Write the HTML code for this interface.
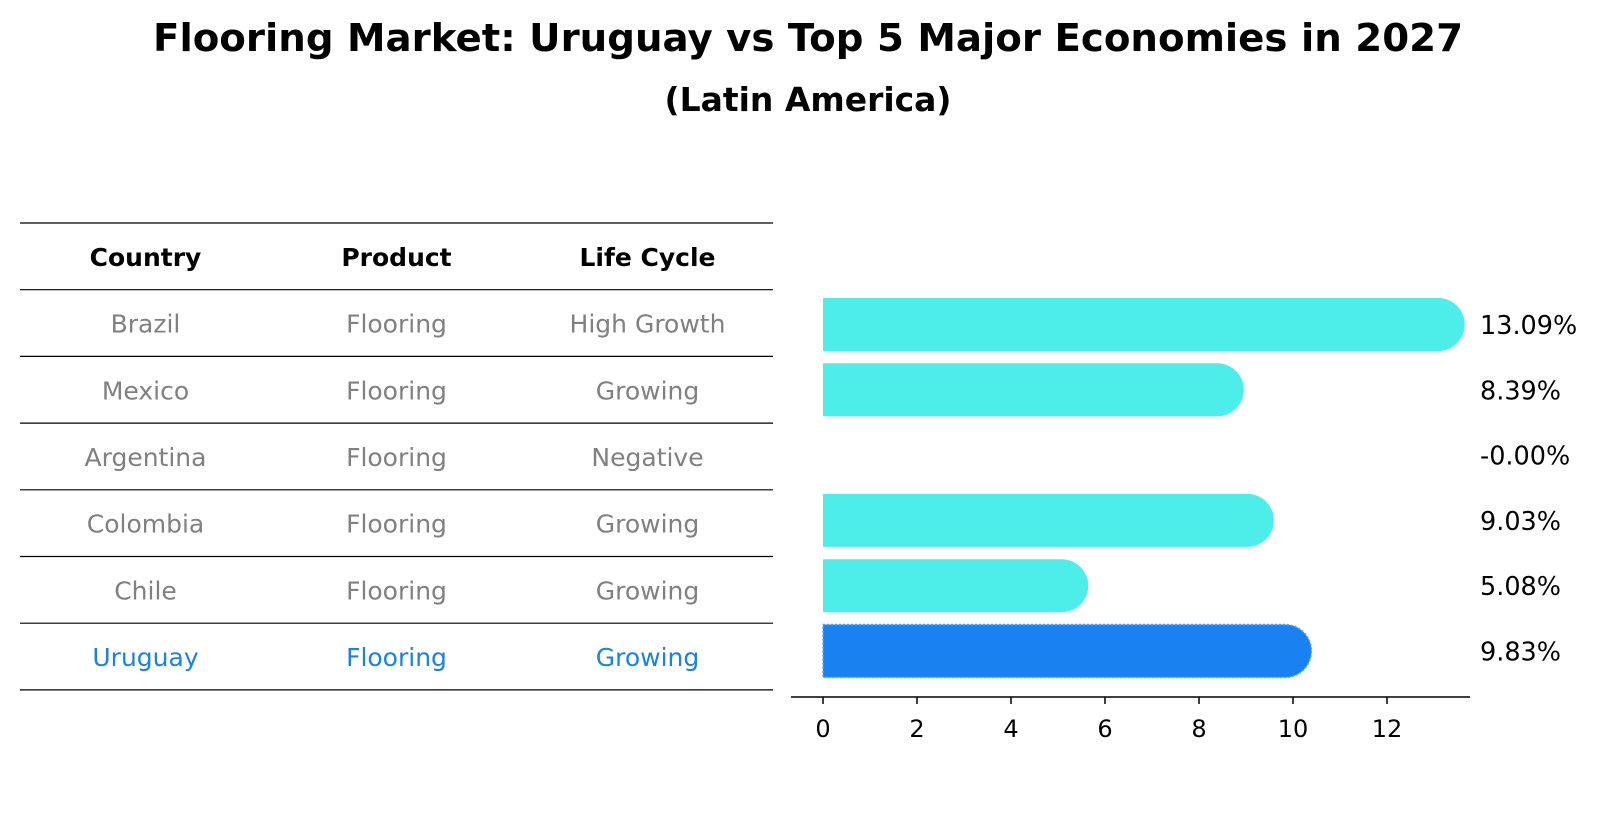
<!DOCTYPE html>
<html><head><meta charset="utf-8">
<style>
html,body{margin:0;padding:0;background:#fff;}
svg{display:block;font-family:"DejaVu Sans","Liberation Sans",sans-serif;}
</style></head>
<body>
<svg id="chart" width="1604" height="823" viewBox="0 0 1604 823" xmlns="http://www.w3.org/2000/svg">
<text x="808" y="51" text-anchor="middle" font-weight="bold" font-size="38" textLength="1310" lengthAdjust="spacingAndGlyphs">Flooring Market: Uruguay vs Top 5 Major Economies in 2027</text>
<text x="808" y="111" text-anchor="middle" font-weight="bold" font-size="33" textLength="287" lengthAdjust="spacingAndGlyphs">(Latin America)</text>
<g id="table"></g>
<g id="bars"></g>
</svg>
<script>
const countries = ["Brazil","Mexico","Argentina","Colombia","Chile","Uruguay"];
const products = ["Flooring","Flooring","Flooring","Flooring","Flooring","Flooring"];
const lifeCycles = ["High Growth","Growing","Negative","Growing","Growing","Growing"];
const growthValues = [13.09, 8.39, -0.00, 9.03, 5.08, 9.83];
const xTicks = [0, 2, 4, 6, 8, 10, 12];
const headers = ["Country","Product","Life Cycle"];
const highlight = "Uruguay";

const NS = "http://www.w3.org/2000/svg";
function mk(tag, attrs, parent, txt){
  const e = document.createElementNS(NS, tag);
  for (const k in attrs) e.setAttribute(k, attrs[k]);
  if (txt !== undefined) e.textContent = txt;
  parent.appendChild(e);
  return e;
}
// table
const table = document.getElementById("table");
const tX0 = 20, tX1 = 773, tY0 = 223, rowH = 66.7;
const colX = [145.5, 396.5, 647.5];
for (let i = 0; i <= countries.length + 1; i++) {
  const l = mk("line", {x1:tX0, x2:tX1, y1:tY0 + i*rowH, y2:tY0 + i*rowH, stroke:"#000", "stroke-width":1.2}, table);
  
  
}
headers.forEach((h, c) => {
  const t = mk("text", {x:colX[c], y:tY0 + rowH/2 + 9.5, "text-anchor":"middle", "font-size":25, "font-weight":"bold", fill:"#000"}, table, h);
  
  
});
countries.forEach((cn, r) => {
  const color = cn === highlight ? "#1A82E0" : "#808080";
  const y = tY0 + (r + 1.5)*rowH + 9.5;
  [cn, products[r], lifeCycles[r]].forEach((v, c) => {
    const t = mk("text", {x:colX[c], y:y, "text-anchor":"middle", "font-size":25, fill:color}, table, v);
    
    
  });
});
// bar chart
const bars = document.getElementById("bars");
const x0 = 823, pxPerUnit = 47;
const xScale = v => x0 + v*pxPerUnit;
const yCenter0 = 324.5, yStep = 65.3, barH = 53, r = barH/2;
const yScale = i => yCenter0 + i*yStep;
growthValues.forEach((v, i) => {
  const cy = yScale(i), top = cy - r, xe = xScale(Math.max(v, 0));
  const isHL = countries[i] === highlight;
  if (v > 0) {
    const d = `M${x0},${top} L${xe},${top} A${r},${r} 0 0 1 ${xe},${top+barH} L${x0},${top+barH} Z`;
    const p = mk("path", {d:d, fill: isHL ? "#1982F0" : "#4DEDEA"}, bars);
    if (isHL) { p.setAttribute("stroke", "#5aa8f5"); p.setAttribute("stroke-width", "1.5"); p.setAttribute("stroke-dasharray", "2,2"); }
    
    
  }
  const t = mk("text", {x:1480, y:cy + 9.5, "font-size":25.5, fill:"#000"}, bars, (v === 0 ? "-0.00" : v.toFixed(2)) + "%");
  
  
});
const axis = mk("line", {x1:791, x2:1470, y1:697, y2:697, stroke:"#000", "stroke-width":1.5}, bars);


xTicks.forEach(tv => {
  const x = xScale(tv);
  const tk = mk("line", {x1:x, x2:x, y1:697, y2:704, stroke:"#000", "stroke-width":1.5}, bars);
  
  
  const tl = mk("text", {x:x, y:737, "text-anchor":"middle", "font-size":24, fill:"#000"}, bars, String(tv));
  
  
});
</script>
</body></html>
